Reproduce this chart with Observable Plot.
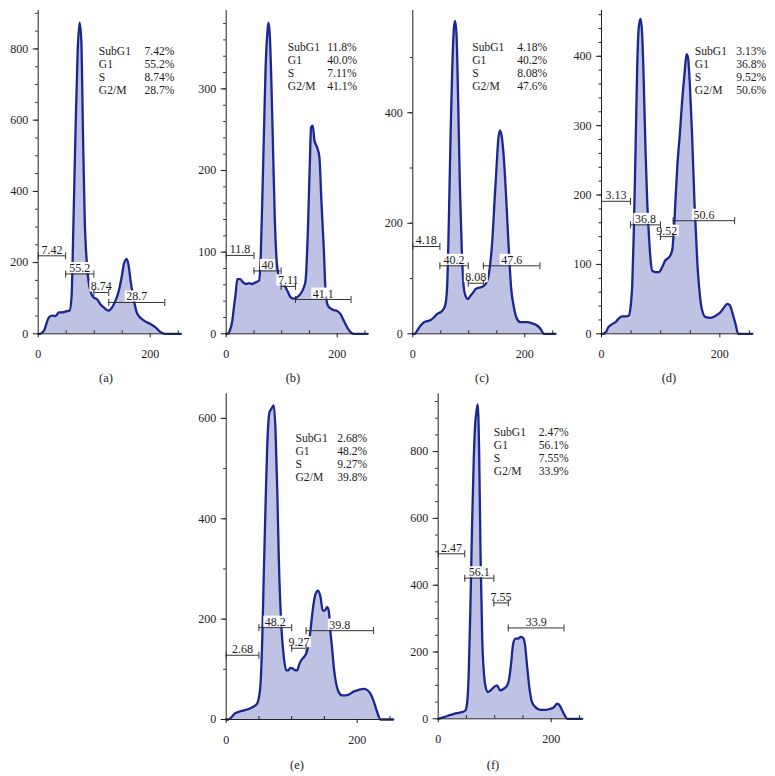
<!DOCTYPE html>
<html><head><meta charset="utf-8">
<script src="https://cdn.jsdelivr.net/npm/d3@7"></script>
<script src="https://cdn.jsdelivr.net/npm/@observablehq/plot@0.6"></script>
<style>
body{margin:0;background:#fff;}
#fig{position:relative;width:775px;height:776px;background:#fff;overflow:hidden;font-family:"Liberation Serif",serif;}
#fig svg{position:absolute;}
.lab{position:absolute;font-size:12.5px;color:#222;transform:translate(-50%,-50%);white-space:nowrap;}
</style></head><body><div id="fig"></div>
<script>
// ---------- data ----------
const phases = ["SubG1", "G1", "S", "G2/M"];
const panelLabels = ["(a)", "(b)", "(c)", "(d)", "(e)", "(f)"];
const xMajor = [0, 200];
const xMinor = [50, 100, 150, 250];

// histogram curves [channel, count]
const curveA = [[0,0],[3,0],[10,8],[19,46],[25,51],[31,50],[37,60],[43,60],[52,64],[56,65],[59.5,102],[62.5,280],[66.5,561],[70.5,795],[74,874],[77,823],[80,561],[83,327],[87.5,186],[93,121],[99,102],[105,97],[111,83],[117,74],[126,65],[132,74],[138,93],[144,121],[150,168],[153,196],[158,210],[161,196],[165,149],[171,93],[177,56],[189,37],[200,28],[209,19],[218,5],[227,0],[255,0]];
const curveB = [[0,0],[2,0],[6.5,4],[11,16],[14,33],[17,49],[20,67],[25,67],[29,64],[35,61],[41,62],[47,61],[53,63],[59,65],[62,90],[65,163],[68,245],[71,326],[74,367],[76,381],[78.5,367],[81.5,306],[84.5,224],[87.5,143],[90.5,94],[95,69],[99,61],[104,60],[110,53],[116,45],[122,43],[128,45],[134,49],[140,57],[143,65],[147,122],[150.5,204],[153,253],[156,255],[159,237],[164,228],[168,216],[171.5,163],[176,102],[179,53],[183,35],[188,31],[194,29],[200,28],[206,24],[212,16],[218,8],[224,2],[230,0],[255,0]];
const curveC = [[0,0],[3.5,0],[8,6],[14,15],[20,21],[26,23],[32,25],[38,30],[43.5,36],[49.5,39],[55,45],[58.5,54],[61.5,90],[64.5,211],[67.5,362],[70.5,482],[73.5,554],[75.5,566],[78,542],[81,422],[84,271],[87.5,151],[91,84],[94,69],[98,63],[103,69],[108,75],[112,81],[117,83],[121,84],[127,87],[133,96],[137.5,120],[142,169],[146,241],[149.5,301],[152.5,350],[155.5,368],[159,356],[162.5,319],[167,241],[171.5,151],[175.5,84],[180.5,48],[186,27],[192,21],[204,21],[213,19],[222,15],[228,9],[234,0],[255,0]];
const curveD = [[0,0],[2.3,0],[7,2],[12,10],[18,14],[24,17],[29,22],[35,25],[41,25],[46,26],[49,38],[52,72],[54.5,144],[57.5,264],[60.3,384],[63,442],[66,454],[68.7,432],[71.5,360],[74.4,264],[77.2,192],[80,144],[83,106],[85.6,91],[91,89],[97,89],[102.5,96],[108,106],[114,110],[119.4,120],[122,144],[125,192],[128,240],[132.4,288],[136.3,336],[140.3,375],[143.7,403],[146,399],[149.3,360],[153,288],[157,192],[161.7,106],[166,58],[170,34],[176,24],[184,23],[193,26],[201,31],[207,38],[212.4,43],[217,41],[221,31],[226.5,14],[231,0],[255,0]];
const curveE = [[0,0],[3,0],[9,6],[14,12.6],[21,16],[27,18],[34.5,21],[42,26],[47,31],[50,44],[52.4,71],[55,157],[57.4,290],[60,423],[62.6,543],[66,612],[69,619],[72.7,626],[75.3,576],[78,456],[80.3,323],[84,191],[88,124],[91.6,98],[94.7,98],[98,103],[101,102],[104.3,99],[108.4,98],[111,108],[114.5,118],[118.5,124],[122,131],[125,144],[128.7,177],[132,217],[136.3,250],[140.4,257],[144,244],[147.5,217],[150.5,217],[154,224],[156.6,217],[159,177],[162,138],[164.3,104],[168,71],[172,54],[177,48],[182,48],[189,51],[195,56],[202,59],[210,61],[215,59],[220,52],[225,37],[230.5,15],[235.6,0],[255,0]];
const curveF = [[0,0],[10,5],[19,10],[28,15],[36.5,18],[42,20],[48,25],[51,45],[54,135],[57,334],[60,584],[63,783],[65.5,883],[68,923],[70,941],[72.6,783],[75,484],[78,234],[81,135],[84,95],[88,80],[92.6,85],[98.5,95],[104,100],[110,85],[116,90],[122,100],[125,115],[129,165],[132.7,225],[137,240],[141.6,240],[145.7,245],[150,243],[153.3,225],[157.5,155],[162,85],[166,50],[172,35],[181,27],[190,27],[199,30],[205,35],[210.6,45],[215,40],[219.5,25],[224,10],[228.4,0],[255,0]];

// gate markers [from, to, height, label]
const gatesA = [[0,49,219,"7.42"],[49,99.4,168,"55.2"],[99.4,126,116,"8.74"],[126,226,88,"28.7"]];
const gatesB = [[0,50,96,"11.8"],[50,99,77,"40"],[99,125,58,"7.11"],[125,225,42,"41.1"]];
const gatesC = [[0,48.4,158,"4.18"],[48.4,99,123,"40.2"],[99,126,91.5,"8.08"],[126,227,123,"47.6"]];
const gatesD = [[0,49,191,"3.13"],[49,99.6,157,"36.8"],[99.6,121,140,"9.52"],[121,225,163,"50.6"]];
const gatesE = [[0,50,128,"2.68"],[50,100,183,"48.2"],[100,122,142,"9.27"],[122,225,177,"39.8"]];
const gatesF = [[0,47,494,"2.47"],[47,98.5,421,"56.1"],[98.5,124,347,"7.55"],[124,222.6,272,"33.9"]];

// phase percentages
const statsA = ["7.42%","55.2%","8.74%","28.7%"];
const statsB = ["11.8%","40.0%","7.11%","41.1%"];
const statsC = ["4.18%","40.2%","8.08%","47.6%"];
const statsD = ["3.13%","36.8%","9.52%","50.6%"];
const statsE = ["2.68%","48.2%","9.27%","39.8%"];
const statsF = ["2.47%","56.1%","7.55%","33.9%"];

// y ticks
const yMajorA = [0,200,400,600,800], yMinorA = d3.range(50, 901, 50);
const yMajorB = [0,100,200,300],     yMinorB = d3.range(20, 391, 20);
const yMajorC = [0,200,400],         yMinorC = d3.range(100, 581, 100);
const yMajorD = [0,100,200,300,400], yMinorD = d3.range(20, 461, 20);
const yMajorE = [0,200,400,600],     yMinorE = d3.range(100, 641, 100);
const yMajorF = [0,200,400,600,800], yMinorF = d3.range(50, 971, 50);
const yMaxes = [908, 396, 585, 466, 649, 973];

// ---------- layout (page pixels) ----------
const layouts = [
  {left:0,   top:0,   w:190, h:370, fx0:37.7,  fx1:180.5, fy0:10,    fy1:333.3, sx:98.3,  sx2:144,   sb:55.7, lx:106, ly:378},
  {left:190, top:0,   w:190, h:370, fx0:225.7, fx1:367.2, fy0:10,    fy1:333.3, sx:287.3, sx2:326.7, sb:52.3, lx:293, ly:378},
  {left:380, top:0,   w:190, h:370, fx0:412.3, fx1:555.1, fy0:10,    fy1:333.3, sx:471.7, sx2:516.7, sb:52,   lx:482, ly:378},
  {left:570, top:0,   w:205, h:370, fx0:601,   fx1:751.9, fy0:10,    fy1:333.3, sx:694.3, sx2:735.7, sb:56,   lx:669, ly:378},
  {left:190, top:390, w:210, h:386, fx0:225.7, fx1:392.7, fy0:393.3, fy1:719,   sx:295,   sx2:336.7, sb:443,  lx:297, ly:765},
  {left:400, top:390, w:200, h:386, fx0:437.7, fx1:581.8, fy0:393.3, fy1:718.3, sx:493.3, sx2:538.3, sb:437,  lx:493, ly:765}
];

const panels = [
  {curve: curveA, gates: gatesA, stats: statsA, yMajor: yMajorA, yMinor: yMinorA},
  {curve: curveB, gates: gatesB, stats: statsB, yMajor: yMajorB, yMinor: yMinorB},
  {curve: curveC, gates: gatesC, stats: statsC, yMajor: yMajorC, yMinor: yMinorC},
  {curve: curveD, gates: gatesD, stats: statsD, yMajor: yMajorD, yMinor: yMinorD},
  {curve: curveE, gates: gatesE, stats: statsE, yMajor: yMajorE, yMinor: yMinorE},
  {curve: curveF, gates: gatesF, stats: statsF, yMajor: yMajorF, yMinor: yMinorF}
];

const FILL = "#bec2e3", LINE = "#1b2791", AXIS = "#222", GATE = "#333", TEXT = "#1c1c1c";
const FS = 12, SFS = 11.6, SLH = 12.9;

const capSymbol = {draw(ctx) { ctx.moveTo(0, -3.5); ctx.lineTo(0, 3.5); }};
const boxSymbol = (w, h) => ({draw(ctx) { ctx.rect(-w / 2, -h / 2, w, h); }});

const fig = document.getElementById("fig");

panels.forEach((p, i) => {
  const L = layouts[i];
  const ml = L.fx0 - L.left, mr = L.left + L.w - L.fx1, mt = L.fy0 - L.top, mb = L.top + L.h - L.fy1;
  const X = d => d[0], Y = d => d[1];
  const mid = g => (g[0] + g[1]) / 2;
  const ends = p.gates.flatMap(g => [[g[0], g[2]], [g[1], g[2]]]);
  const marks = [
    Plot.areaY(p.curve, {x: X, y: Y, fill: FILL, curve: "monotone-x"}),
    Plot.lineY(p.curve, {x: X, y: Y, stroke: LINE, strokeWidth: 2.3, curve: "monotone-x"}),
    Plot.ruleX([0], {stroke: AXIS, strokeWidth: 1}),
    Plot.ruleY([0], {stroke: AXIS, strokeWidth: 1}),
    Plot.axisY(p.yMajor, {tickSize: 5, tickPadding: 5, fontSize: FS, label: null, color: TEXT}),
    Plot.axisY(p.yMinor, {tickSize: 2.5, fill: "none", label: null, stroke: AXIS}),
    Plot.axisX(xMajor, {tickSize: 4, tickPadding: 12, fontSize: FS, label: null, color: TEXT}),
    Plot.axisX(xMinor, {tickSize: 3, dy: -3, fill: "none", label: null, stroke: AXIS})
  ];
  p.gates.forEach(g => {
    const w = g[3].replace(".", "").length * 6 + (g[3].includes(".") ? 3 : 0) + 3;
    marks.push(Plot.dot([g], {x: mid, y: g => g[2], symbol: boxSymbol(w, 11), fill: "white", stroke: "none", dy: -6.5}));
  });
  marks.push(Plot.ruleY(p.gates, {x1: g => g[0], x2: g => g[1], y: g => g[2], stroke: GATE, strokeWidth: 1}));
  marks.push(Plot.dot(ends, {x: X, y: Y, symbol: capSymbol, stroke: GATE, strokeWidth: 1, fill: "none"}));
  marks.push(Plot.text(p.gates, {x: mid, y: g => g[2], text: g => g[3], dy: -2, lineAnchor: "bottom", fontSize: FS, fill: TEXT}));
  // stats block: one text per row, centred on the reference's rows
  const firstBase = L.sb - (SLH * 3 - 36) / 2;
  phases.forEach((ph, r) => {
    const base = firstBase + r * SLH;
    marks.push(Plot.text([ph], {frameAnchor: "top-left", dx: L.sx - L.fx0, dy: base - L.fy0, lineAnchor: "bottom", textAnchor: "start", fontSize: SFS, fill: TEXT}));
    marks.push(Plot.text([p.stats[r]], {frameAnchor: "top-left", dx: L.sx2 - L.fx0, dy: base - L.fy0, lineAnchor: "bottom", textAnchor: "start", fontSize: SFS, fill: TEXT}));
  });

  const svg = Plot.plot({
    width: L.w, height: L.h,
    marginLeft: ml, marginRight: mr, marginTop: mt, marginBottom: mb,
    x: {domain: [0, 255]},
    y: {domain: [0, yMaxes[i]]},
    style: {fontFamily: "'Liberation Serif', serif", fontSize: FS + "px", color: TEXT, background: "transparent", overflow: "visible"},
    marks
  });
  svg.style.left = L.left + "px";
  svg.style.top = L.top + "px";
  svg.style.maxWidth = "none";
  fig.appendChild(svg);

  const lab = document.createElement("div");
  lab.className = "lab";
  lab.style.left = L.lx + "px";
  lab.style.top = L.ly + "px";
  lab.textContent = panelLabels[i];
  fig.appendChild(lab);
});
</script></body></html>
